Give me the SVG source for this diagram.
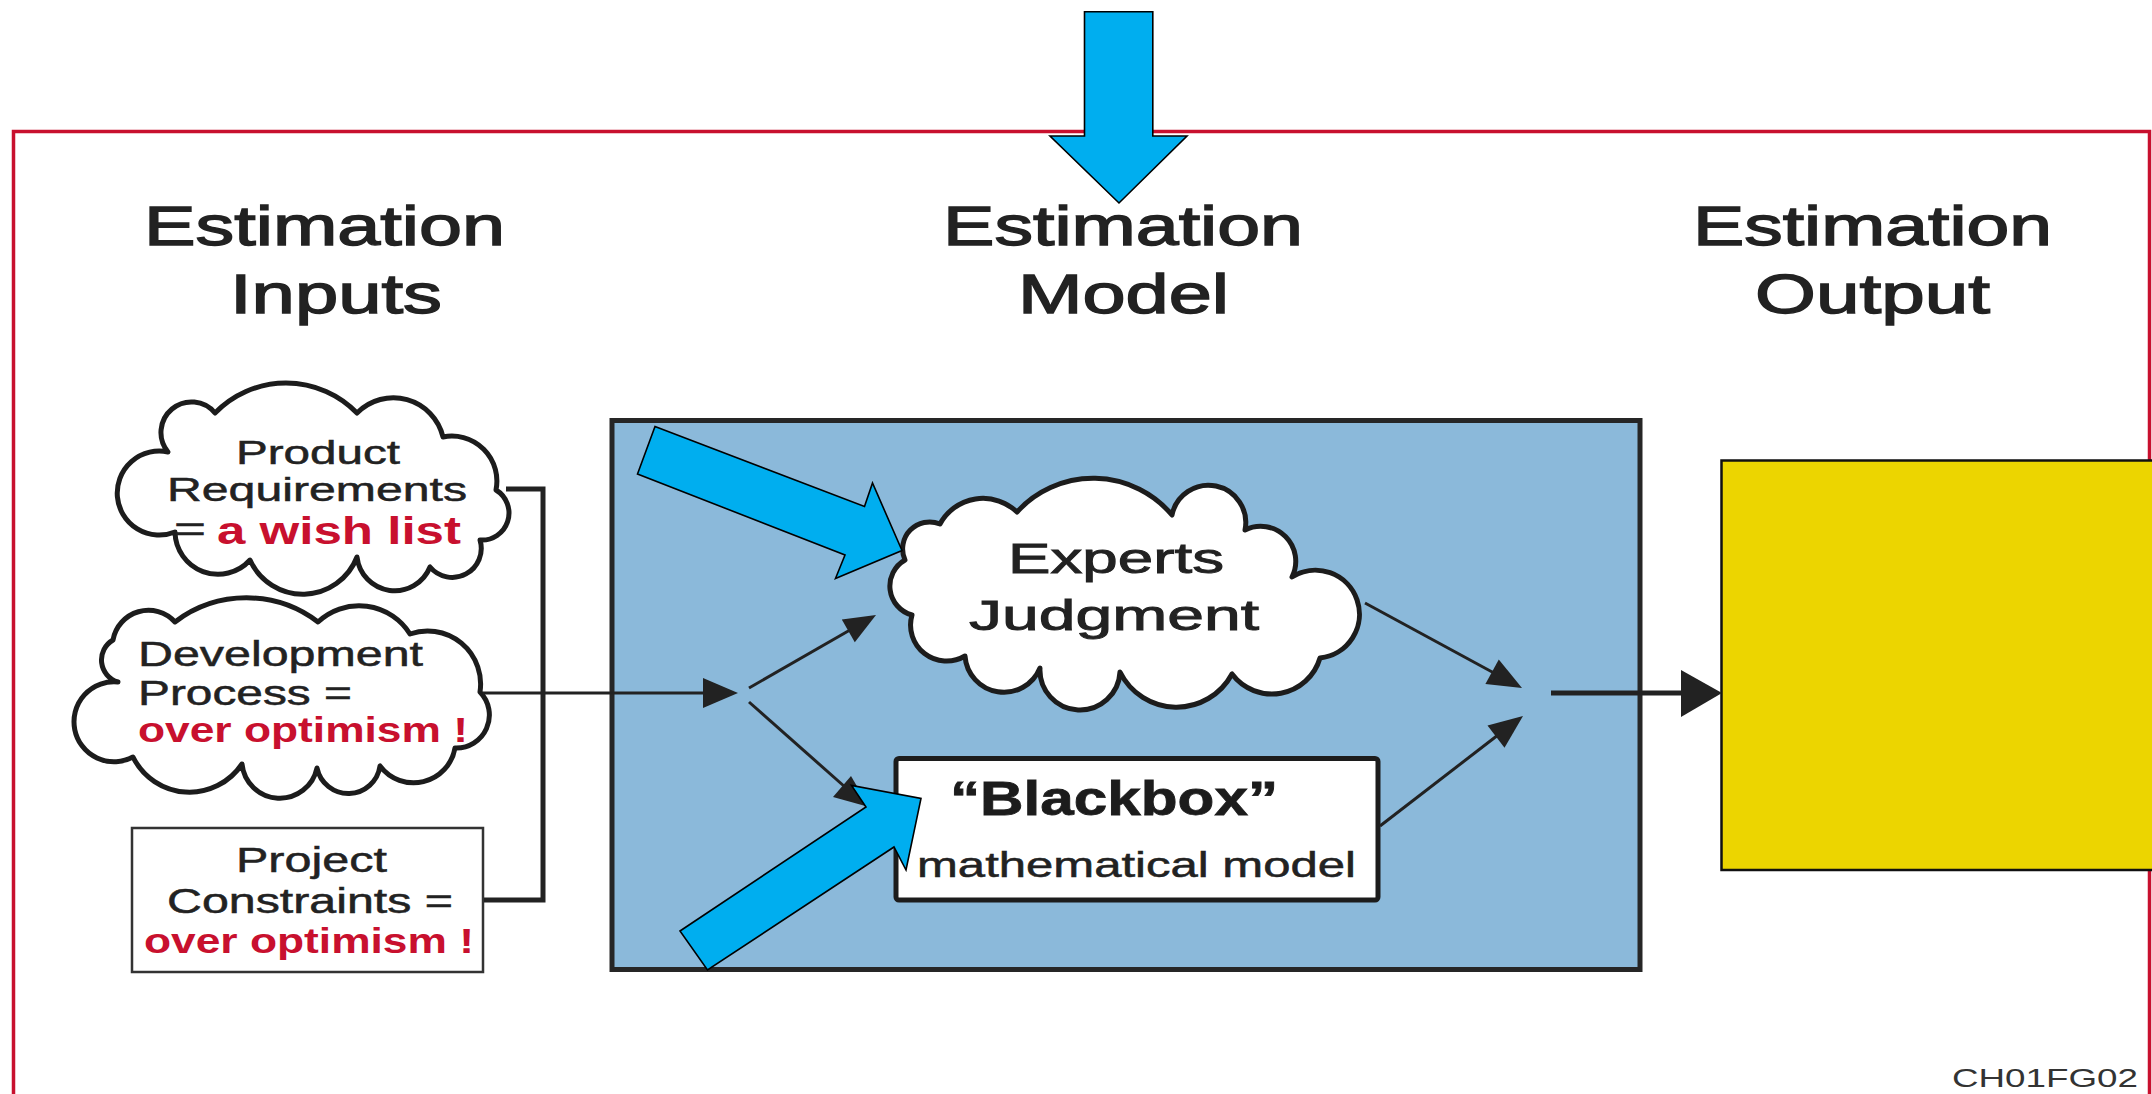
<svg xmlns="http://www.w3.org/2000/svg" width="2152" height="1094" viewBox="0 0 2152 1094">
<defs>
<style>
.h{font-family:"Liberation Sans",Arial,sans-serif;font-size:56px;fill:#222;stroke:#222;stroke-width:1.4}
.t{font-family:"Liberation Sans",Arial,sans-serif;font-size:35px;fill:#222;stroke:#222;stroke-width:0.5}
.r{font-family:"Liberation Sans",Arial,sans-serif;font-size:35px;font-weight:bold;fill:#C8102E}
.e{font-family:"Liberation Sans",Arial,sans-serif;font-size:43px;fill:#222;stroke:#222;stroke-width:0.9}
.cloud{fill:#fff;stroke:#1c1c1c;stroke-width:5;stroke-linejoin:round}
.bus{fill:none;stroke:#222;stroke-width:5}
.ln{fill:none;stroke:#222;stroke-width:3}
.ah{fill:#222}
.blue{fill:#00AEEF;stroke:#000;stroke-width:1.6;stroke-linejoin:miter}
</style>
</defs>
<rect width="2152" height="1094" fill="#fff"/>
<path id="frame" d="M13.5,1100 V131.5 H2149.5 V1100" fill="none" stroke="#C8102E" stroke-width="3.5"/>

<g id="headings">
<text class="h" x="144" y="245" textLength="361" lengthAdjust="spacingAndGlyphs">Estimation</text>
<text class="h" x="230" y="313" textLength="212" lengthAdjust="spacingAndGlyphs">Inputs</text>
<text class="h" x="943" y="245" textLength="360" lengthAdjust="spacingAndGlyphs">Estimation</text>
<text class="h" x="1018" y="313" textLength="211" lengthAdjust="spacingAndGlyphs">Model</text>
<text class="h" x="1693" y="245" textLength="359" lengthAdjust="spacingAndGlyphs">Estimation</text>
<text class="h" x="1755" y="313" textLength="235" lengthAdjust="spacingAndGlyphs">Output</text>
</g>

<g id="model-box">
<rect x="612" y="420.5" width="1028" height="549" fill="#8BB9DA" stroke="#262626" stroke-width="5"/>
</g>

<g id="output-box">
<rect x="1721.5" y="460.5" width="440" height="409.5" fill="#ECD500" stroke="#111" stroke-width="2.5"/>
</g>

<g id="product-requirements">
<path class="cloud" d="M168,452 A30,30 0 0 1 215,413 A99,99 0 0 1 357,413 A51,51 0 0 1 443,437 A45,45 0 0 1 496,490 A27,27 0 0 1 480,540 A29,29 0 0 1 430,567 A38,38 0 0 1 357,557 A58,58 0 0 1 250,560 A43,43 0 0 1 175,532 A42,42 0 1 1 168,452 Z"/>
<text class="t" x="236" y="464" style="font-size:33px" textLength="164" lengthAdjust="spacingAndGlyphs">Product</text>
<text class="t" x="167" y="501" style="font-size:33px" textLength="300" lengthAdjust="spacingAndGlyphs">Requirements</text>
<text class="t" x="174" y="541" textLength="32" lengthAdjust="spacingAndGlyphs">=</text>
<text class="r" x="217" y="544" style="font-size:39px" textLength="244" lengthAdjust="spacingAndGlyphs">a wish list</text>
</g>

<g id="development-process">
<path class="cloud" d="M113,640 A36,36 0 0 1 175,622 A118,118 0 0 1 318,622 A60,60 0 0 1 410,634 A53,53 0 0 1 480,692 A33,33 0 0 1 455,748 A42,42 0 0 1 380,766 A32,32 0 0 1 317,768 A38,38 0 0 1 242,764 A63,63 0 0 1 133,757 A40,40 0 1 1 118,682 A23,23 0 0 1 113,640 Z"/>
<text class="t" x="138" y="666" textLength="285" lengthAdjust="spacingAndGlyphs">Development</text>
<text class="t" x="138" y="705" textLength="214" lengthAdjust="spacingAndGlyphs">Process =</text>
<text class="r" x="138" y="742" textLength="330" lengthAdjust="spacingAndGlyphs">over optimism !</text>
</g>

<g id="project-constraints">
<rect x="132" y="828" width="351" height="144" fill="#fff" stroke="#333" stroke-width="2.5"/>
<text class="t" x="236" y="872" textLength="151" lengthAdjust="spacingAndGlyphs">Project</text>
<text class="t" x="167" y="913" textLength="286" lengthAdjust="spacingAndGlyphs">Constraints =</text>
<text class="r" x="144" y="953" textLength="330" lengthAdjust="spacingAndGlyphs">over optimism !</text>
</g>

<g id="experts-judgment">
<path class="cloud" d="M940,524 A49,49 0 0 1 1017,512 A103,103 0 0 1 1172,515 A37,37 0 0 1 1245,530 A35,35 0 0 1 1292,577 A44,44 0 1 1 1320,658 A50,50 0 0 1 1232,674 A63,63 0 0 1 1120,672 A40,40 0 0 1 1040,668 A39,39 0 0 1 965,656 A36,36 0 0 1 912,615 A30,30 0 0 1 905,560 A27,27 0 0 1 940,524 Z"/>
<text class="e" x="1008" y="573" textLength="216" lengthAdjust="spacingAndGlyphs">Experts</text>
<text class="e" x="969" y="630" textLength="290" lengthAdjust="spacingAndGlyphs">Judgment</text>
</g>

<g id="blackbox">
<rect x="896" y="758.5" width="482" height="141.5" rx="3" fill="#fff" stroke="#1c1c1c" stroke-width="5"/>
<text x="950" y="815" font-family="'Liberation Sans',Arial,sans-serif" font-size="49" font-weight="bold" fill="#1c1c1c" stroke="#1c1c1c" stroke-width="0.8" textLength="328" lengthAdjust="spacingAndGlyphs">“Blackbox”</text>
<text class="t" x="917" y="877" textLength="439" lengthAdjust="spacingAndGlyphs">mathematical model</text>
</g>

<g id="connectors">
<polyline class="bus" points="506,489 543,489 543,900 484,900"/>
<line class="ln" x1="483" y1="693" x2="705" y2="693"/>
<polygon class="ah" points="703,678 738,693 703,708"/>
<line class="ln" x1="749" y1="688" x2="850" y2="630"/>
<polygon class="ah" points="876,615 841.8,619.6 854.8,642.2"/>
<line class="ln" x1="749" y1="702" x2="845" y2="787"/>
<polygon class="ah" points="869,807 833,797 851,776"/>
<line class="ln" x1="1365" y1="603" x2="1494" y2="673"/>
<polygon class="ah" points="1522,688 1485.4,684.1 1498.8,659.5"/>
<line class="ln" x1="1380" y1="826" x2="1498" y2="735"/>
<polygon class="ah" points="1523,716 1504.5,747.8 1487.5,725.6"/>
<line class="bus" x1="1551" y1="693" x2="1685" y2="693"/>
<polygon class="ah" points="1681,670 1722,693 1681,717"/>
</g>

<g id="highlight-arrows">
<polygon class="blue" points="1084.5,11.7 1152.8,11.7 1152.8,136 1187,136 1119,203 1050,136 1084.5,136"/>
<polygon class="blue" points="655,426.5 864.5,506.5 872.5,483 902,550.5 835.5,578.5 845,555 637.5,474"/>
<polygon class="blue" points="680,931 866,807 851.5,785.5 921,798.5 906,870 894,847 707.5,970"/>
</g>

<text x="1952" y="1087" font-family="'Liberation Sans',Arial,sans-serif" font-size="26" fill="#333" textLength="186" lengthAdjust="spacingAndGlyphs">CH01FG02</text>
</svg>
